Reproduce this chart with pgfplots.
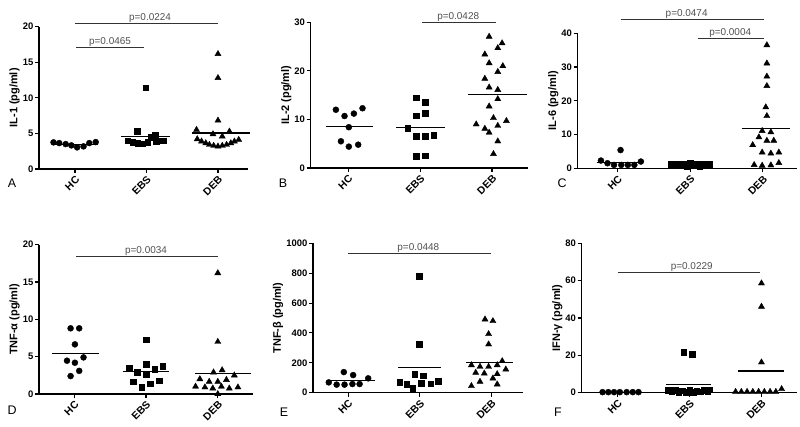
\documentclass[border=0pt]{standalone}
\usepackage{fontspec}
\setmainfont{Liberation Sans}
\usepackage{pgfplots}
\pgfplotsset{compat=1.18}
\definecolor{sigline}{RGB}{50,50,50}
\definecolor{ptxt}{RGB}{80,80,80}
\pgfplotsset{
  panel/.style={
    scale only axis, anchor=south west, clip=false,
    axis lines=left, axis line style={-, line width=1.2pt, black},
    xtick={0,1,2}, xticklabels={HC,EBS,DEB},
    xticklabel style={rotate=45, anchor=north east, inner sep=1.5pt,
      font=\bfseries\fontsize{10.5}{10.5}\selectfont},
    yticklabel style={inner sep=1.5pt, font=\bfseries\fontsize{9.5}{9.5}\selectfont},
    /pgf/number format/assume math mode=true,
    /pgf/number format/1000 sep={},
    scaled y ticks=false,
    tick align=outside, major tick length=4bp,
    major tick style={line width=1.1pt, black},
    ymin=0,
    ylabel style={font=\bfseries\fontsize{11}{11}\selectfont, yshift=-2pt},
  },
  hc/.style={only marks, mark=*, mark size=3bp, black},
  ebs/.style={only marks, mark=square*, mark size=2.8bp, black},
  deb/.style={only marks, mark=triangle*, mark size=3.5bp, black},
  mean/.style={no marks, line width=1.2pt, black},
  sig/.style={no marks, line width=1.1pt, sigline},
}
\newcommand{\pv}[3]{\node[ptxt, anchor=south, inner sep=0.8pt, font=\fontsize{10}{10}\selectfont] at (axis cs:#1,#2) {#3};}
\newcommand{\panellabel}[3]{\node[font=\fontsize{12.5}{12.5}\selectfont] at (#1bp,#2bp) {#3};}
\begin{document}
\begin{tikzpicture}
\useasboundingbox (0,0) rectangle (800bp,427bp);

% ---------- A: IL-1
\begin{axis}[panel, at={(39bp,258bp)}, width=209bp, height=142.3bp,
  xmin=-0.503, xmax=2.42, ymax=20, ytick={0,5,10,15,20}, ylabel={IL-1 (pg/ml)}]
\addplot[hc] coordinates {(-0.30,3.74) (-0.22,3.64) (-0.13,3.5) (-0.05,3.32) (0.03,3.04) (0.12,3.18) (0.20,3.64) (0.29,3.78)};
\addplot[mean] coordinates {(-0.30,3.48) (0.32,3.48)};
\addplot[ebs] coordinates {(0.99,11.45) (0.87,5.28) (1.12,4.72) (1.06,4.49) (0.74,3.97) (0.81,3.74) (0.88,3.64) (0.95,3.55) (1.02,3.74) (1.14,3.88) (1.23,3.97)};
\addplot[mean] coordinates {(0.65,4.6) (1.33,4.6)};
\addplot[deb] coordinates {(2,16.17) (2,12.8) (2,6.82) (1.70,5.51) (1.93,4.9) (2.16,5.28) (2.06,4.58) (1.71,4.2) (1.77,3.88) (1.83,3.64) (1.88,3.41) (1.94,3.27) (2,3.18) (2.06,3.27) (2.12,3.41) (2.18,3.64) (2.23,3.88) (2.29,4.11)};
\addplot[mean] coordinates {(1.63,5.05) (2.45,5.05)};
\addplot[sig] coordinates {(0.02,17.06) (0.96,17.06)};
\pv{0.49}{17.06}{p=0.0465}
\addplot[sig] coordinates {(0,20.5) (2,20.5)};
\pv{1.05}{20.5}{p=0.0224}
\end{axis}

% ---------- B: IL-2
\begin{axis}[panel, at={(310.7bp,259bp)}, width=217.3bp, height=145.7bp,
  xmin=-0.52, xmax=2.5, ymax=30, ytick={0,10,20,30}, ylabel={IL-2 (pg/ml)}]
\addplot[hc] coordinates {(-0.17,12.0) (0.20,12.3) (-0.05,10.7) (0.08,11.2) (0.01,8.4) (-0.10,5.5) (0.01,4.4) (0.14,4.8)};
\addplot[mean] coordinates {(-0.31,8.6) (0.35,8.6)};
\addplot[ebs] coordinates {(0.944,14.5) (1.07,13.5) (0.944,10.75) (1.07,11.3) (0.83,8.2) (0.944,6.5) (1.07,6.5) (1.19,6.7) (0.944,2.4) (1.07,2.5)};
\addplot[mean] coordinates {(0.67,8.3) (1.34,8.3)};
\addplot[deb] coordinates {(1.96,27.05) (2.14,25.7) (2.08,24.7) (1.90,23.4) (1.96,21.6) (2.15,21.0) (2.08,19.8) (1.90,18.4) (1.96,16.6) (2.08,16.1) (2.08,14.2) (1.96,12.7) (2.02,10.3) (1.78,9.0) (2.20,9.7) (1.90,8.1) (1.96,7.3) (2.08,8.7) (2.08,5.5) (2.02,2.9)};
\addplot[mean] coordinates {(1.67,15.2) (2.49,15.2)};
\addplot[sig] coordinates {(1.03,30.0) (2.06,30.0)};
\pv{1.53}{30.0}{p=0.0428}
\end{axis}

% ---------- C: IL-6
\begin{axis}[panel, at={(577.7bp,258.7bp)}, width=219.3bp, height=135bp,
  xmin=-0.55, xmax=2.47, ymax=40, ytick={0,10,20,30,40}, ylabel={IL-6 (pg/ml)}]
\addplot[hc] coordinates {(0.04,5.4) (-0.23,2.3) (-0.14,1.5) (0.32,2.0) (-0.05,1.0) (0.05,1.0) (0.14,1.0) (0.23,1.0)};
\addplot[mean] coordinates {(-0.29,1.8) (0.35,1.8)};
\addplot[ebs] coordinates {(0.74,1.3) (0.78,1.0) (0.83,1.4) (0.87,0.8) (0.92,1.2) (0.96,0.6) (1.0,1.5) (1.04,0.9) (1.09,1.3) (1.13,0.7) (1.17,1.4) (1.22,1.0) (1.26,1.3)};
\addplot[mean] coordinates {(0.71,1.0) (1.31,1.0)};
\addplot[deb] coordinates {(2.055,36.5) (2.055,31.1) (2.055,27.2) (2.055,24.4) (2.04,18.1) (2.055,15.5) (1.99,11.1) (2.11,10.7) (1.945,9.2) (2.055,8.2) (2.15,8.2) (1.86,6.9) (1.99,4.7) (2.11,4.4) (2.22,4.7) (1.88,1.0) (1.99,0.8) (2.11,0.9) (2.22,1.6)};
\addplot[mean] coordinates {(1.71,11.85) (2.38,11.85)};
\addplot[sig] coordinates {(0.04,44.1) (2.02,44.1)};
\pv{0.95}{44.1}{p=0.0474}
\addplot[sig] coordinates {(1.1,38.4) (2.02,38.4)};
\pv{1.55}{38.4}{p=0.0004}
\end{axis}

% ---------- D: TNF-alpha
\begin{axis}[panel, at={(39bp,33bp)}, width=214bp, height=149.3bp,
  xmin=-0.49, xmax=2.49, ymax=20, ytick={0,5,10,15,20}, ylabel={TNF-α (pg/ml)}]
\addplot[hc] coordinates {(-0.05,8.8) (0.07,8.8) (0.01,6.65) (0.13,4.9) (-0.10,4.46) (0.01,4.19) (0.07,3.1) (-0.05,2.4)};
\addplot[mean] coordinates {(-0.31,5.45) (0.35,5.45)};
\addplot[ebs] coordinates {(1,7.3) (0.77,3.5) (0.88,2.9) (1,4.0) (1.12,3.3) (1.23,3.75) (1,2.6) (0.82,1.65) (0.94,0.9) (1.06,1.4) (1.18,1.8)};
\addplot[mean] coordinates {(0.68,3.0) (1.32,3.0)};
\addplot[deb] coordinates {(2,16.2) (2,7.0) (1.94,2.9) (2.06,3.2) (2.23,2.5) (1.75,2.0) (1.88,1.65) (2,1.65) (2.12,1.9) (1.69,1.0) (1.82,0.9) (1.93,0.76) (2.05,1.0) (2.16,0.75) (2.28,0.9) (2,0.0)};
\addplot[mean] coordinates {(1.68,2.75) (2.46,2.75)};
\addplot[sig] coordinates {(0.03,18.4) (2.0,18.4)};
\pv{1.0}{18.4}{p=0.0034}
\end{axis}

% ---------- E: TNF-beta
\begin{axis}[panel, at={(313bp,34.3bp)}, width=210bp, height=149.4bp,
  xmin=-0.49, xmax=2.44, ymax=1000, ytick={0,200,400,600,800,1000}, ylabel={TNF-β (pg/ml)}]
\addplot[hc] coordinates {(-0.06,138) (0.07,118) (0.28,96) (-0.27,69) (-0.16,54) (-0.05,54) (0.06,58) (0.16,58)};
\addplot[mean] coordinates {(-0.30,79) (0.37,79)};
\addplot[ebs] coordinates {(0.99,781) (0.99,326) (0.72,71) (0.82,56) (0.93,125) (1.05,114) (0.90,29) (1.02,62) (1.15,60) (1.26,76)};
\addplot[mean] coordinates {(0.70,170) (1.30,170)};
\addplot[deb] coordinates {(1.91,491) (2.02,480) (1.96,393) (1.96,324) (2.15,212) (1.72,185) (1.84,174) (1.96,174) (2.08,185) (2.20,156) (1.78,134) (1.90,129) (2.08,125) (1.84,74) (2.02,96) (1.72,45) (2.08,56)};
\addplot[mean] coordinates {(1.65,203) (2.30,203)};
\addplot[sig] coordinates {(0,931) (1.99,931)};
\pv{0.98}{931}{p=0.0448}
\end{axis}

% ---------- F: IFN-gamma
\begin{axis}[panel, at={(581.7bp,34.3bp)}, width=215bp, height=149.4bp,
  xmin=-0.5, xmax=2.49, ymax=80, ytick={0,20,40,60,80}, ylabel={IFN-γ (pg/ml)}]
\addplot[hc] coordinates {(-0.21,0.3) (-0.13,0.3) (-0.05,0.3) (0.03,0.3) (0.125,0.3) (0.21,0.3) (0.29,0.3)};
\addplot[ebs] coordinates {(0.92,21.6) (1.04,20.7) (0.70,1.2) (0.75,0.6) (0.80,1.4) (0.85,0.4) (0.90,1.0) (0.95,0.3) (1.0,1.2) (1.05,0.4) (1.10,1.0) (1.15,0.5) (1.20,1.3) (1.25,0.8) (1.28,1.5)};
\addplot[mean] coordinates {(0.67,4.5) (1.30,4.5)};
\addplot[deb] coordinates {(2,58.6) (2,46.1) (2,16.3) (2.28,2.0) (1.64,0.5) (1.72,0.5) (1.80,0.5) (1.88,0.5) (1.96,0.5) (2.04,0.5) (2.12,0.5) (2.20,0.5)};
\addplot[mean] coordinates {(1.68,11.6) (2.32,11.6)};
\addplot[sig] coordinates {(0,64.3) (1.98,64.3)};
\pv{1.03}{64.3}{p=0.0229}
\end{axis}

\panellabel{12}{244}{A}
\panellabel{283}{244}{B}
\panellabel{562}{244}{C}
\panellabel{12}{17}{D}
\panellabel{284}{15}{E}
\panellabel{558}{15}{F}
\end{tikzpicture}
\end{document}
